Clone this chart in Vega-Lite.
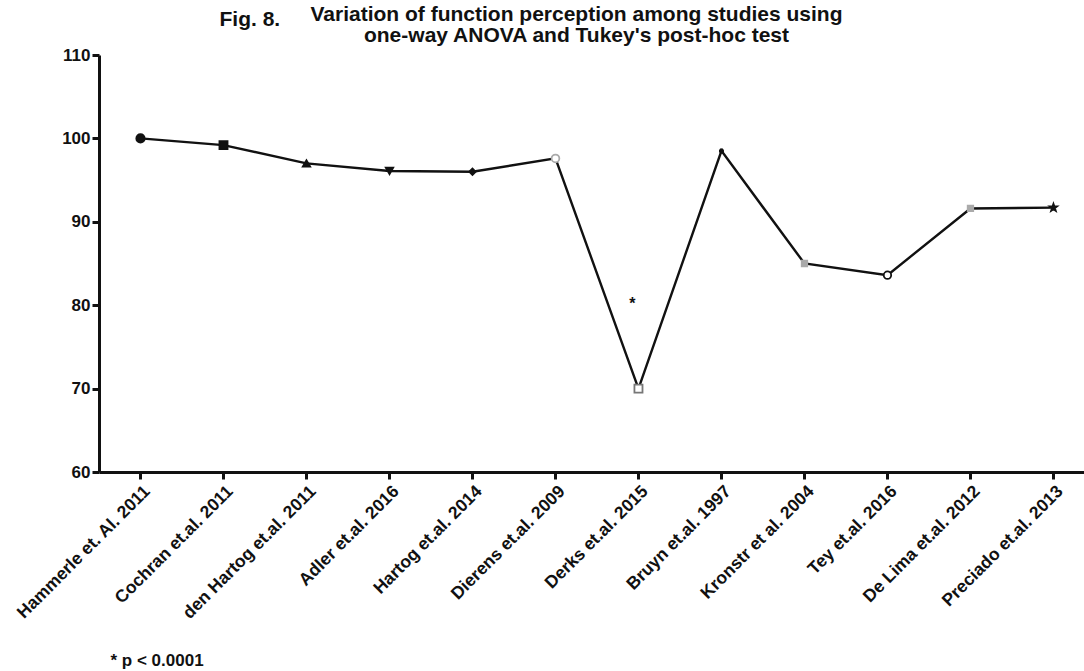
{
  "$schema": "https://vega.github.io/schema/vega-lite/v6.json",
  "width": 985,
  "height": 417,
  "autosize": {"type": "none"},
  "padding": {"left": 99, "top": 55, "right": 0, "bottom": 199},
  "background": "white",
  "title": {
    "text": [
      "Variation of function perception among studies using",
      "one-way ANOVA and Tukey's post-hoc test"
    ],
    "anchor": "middle",
    "frame": "group",
    "dx": -15,
    "offset": -38,
    "font": "Liberation Sans",
    "fontSize": 21,
    "fontWeight": "bold",
    "lineHeight": 21,
    "color": "#111"
  },
  "config": {
    "view": {"stroke": null},
    "font": "Liberation Sans"
  },
  "data": {
    "values": [
      {"study": "Hammerle et. Al. 2011", "value": 100.0},
      {"study": "Cochran et.al. 2011", "value": 99.2},
      {"study": "den Hartog et.al. 2011", "value": 97.0},
      {"study": "Adler et.al. 2016", "value": 96.1},
      {"study": "Hartog et.al. 2014", "value": 96.0},
      {"study": "Dierens et.al. 2009", "value": 97.6},
      {"study": "Derks et.al. 2015", "value": 70.0},
      {"study": "Bruyn et.al. 1997", "value": 98.5},
      {"study": "Kronstr et al. 2004", "value": 85.0},
      {"study": "Tey et.al. 2016", "value": 83.6},
      {"study": "De Lima et.al. 2012", "value": 91.6},
      {"study": "Preciado et.al. 2013", "value": 91.7}
    ]
  },
  "encoding": {
    "x": {
      "field": "study",
      "type": "nominal",
      "sort": null,
      "scale": {"type": "point", "padding": 0.434, "align": 0.576},
      "axis": {
        "title": "* p < 0.0001",
        "titleAnchor": "start",
        "titleAlign": "left",
        "titleBaseline": "top",
        "titleX": 11,
        "titleY": 180,
        "titleFont": "Liberation Sans",
        "titleFontSize": 17,
        "titleFontWeight": "bold",
        "titleColor": "#111",
        "labelAngle": -45,
        "labelFont": "Liberation Sans",
        "labelFontSize": 17.5,
        "labelFontWeight": "bold",
        "labelColor": "#111",
        "labelPadding": 3,
        "domainColor": "#111",
        "domainWidth": 3,
        "tickColor": "#111",
        "tickWidth": 3,
        "tickSize": 7,
        "grid": false
      }
    },
    "y": {
      "field": "value",
      "type": "quantitative",
      "scale": {"domain": [60, 110], "nice": false, "zero": false},
      "axis": {
        "title": "Fig. 8.",
        "titleAngle": 0,
        "titleAlign": "left",
        "titleBaseline": "alphabetic",
        "titleX": 120,
        "titleY": -30,
        "titleFont": "Liberation Sans",
        "titleFontSize": 21,
        "titleFontWeight": "bold",
        "titleColor": "#111",
        "values": [60, 70, 80, 90, 100, 110],
        "labelFont": "Liberation Sans",
        "labelFontSize": 17,
        "labelFontWeight": "bold",
        "labelColor": "#111",
        "labelPadding": 2,
        "domainColor": "#111",
        "domainWidth": 3,
        "tickColor": "#111",
        "tickWidth": 3,
        "tickSize": 7,
        "grid": false
      }
    }
  },
  "layer": [
    {
      "mark": {"type": "line", "color": "#111", "strokeWidth": 2.4}
    },
    {
      "mark": {"type": "point", "filled": false, "strokeWidth": 1.8, "opacity": 1},
      "encoding": {
        "shape": {
          "field": "study",
          "type": "nominal",
          "sort": null,
          "legend": null,
          "scale": {"range": ["circle", "square", "triangle-up", "triangle-down", "diamond", "circle", "square", "cross", "square", "circle", "square", "M0,-1L0.24,-0.33L0.95,-0.31L0.38,0.12L0.59,0.81L0,0.4L-0.59,0.81L-0.38,0.12L-0.95,-0.31L-0.24,-0.33Z"]}
        },
        "fill": {
          "field": "study",
          "type": "nominal",
          "sort": null,
          "legend": null,
          "scale": {"range": ["#111", "#111", "#111", "#111", "#111", "white", "white", "#111", "#aaa", "white", "#aaa", "#111"]}
        },
        "stroke": {
          "field": "study",
          "type": "nominal",
          "sort": null,
          "legend": null,
          "scale": {"range": ["#111", "#111", "#111", "#111", "#111", "#aaa", "#777", "#111", "#aaa", "#111", "#aaa", "#111"]}
        },
        "size": {
          "field": "study",
          "type": "nominal",
          "sort": null,
          "legend": null,
          "scale": {"type": "ordinal", "range": [70, 65, 55, 55, 40, 60, 65, 10, 30, 55, 30, 60]}
        }
      }
    },
    {
      "data": {"values": [{"study": "Derks et.al. 2015", "value": 80.2, "label": "*"}]},
      "mark": {"type": "text", "font": "Liberation Sans", "fontSize": 16, "fontWeight": "bold", "color": "#111", "dx": -6, "baseline": "middle"},
      "encoding": {"text": {"field": "label"}}
    }
  ]
}
